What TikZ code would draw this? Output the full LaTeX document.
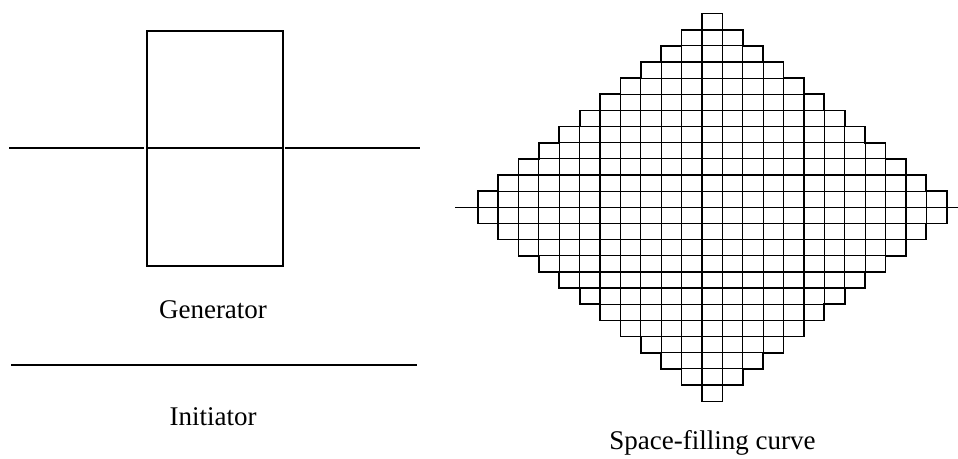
\documentclass[tikz,border=0pt]{standalone}
\usepackage{fontspec}
\setmainfont{Liberation Serif}
\begin{document}
\begin{tikzpicture}[x=1pt,y=-1pt,
  ln/.style={line width=1.4pt,black},
  cell/.style={line width=1.2pt,black},
  outl/.style={line width=1.7pt,black,line join=miter},
  tip/.style={line width=0.8pt,black},
  lbl/.style={font=\fontsize{27}{30}\selectfont,anchor=base,inner sep=0pt}]
\useasboundingbox (0,0) rectangle (958,458);
% ---------- Generator ----------
\coordinate (gl0) at (9,148);
\coordinate (gl1) at (144,148);
\coordinate (gr0) at (285,148);
\coordinate (gr1) at (420,148);
\draw[ln] (gl0) -- (gl1);
\draw[ln] (gr0) -- (gr1);
\draw[ln] (147,31) rectangle (283,266);
\draw[ln] (147,148) -- (283,148);
\node[lbl] (gen) at (213,318) {Generator};
% ---------- Initiator ----------
\coordinate (i0) at (11,365);
\coordinate (i1) at (417,365);
\draw[ln] (i0) -- (i1);
\node[lbl] (ini) at (213,425) {Initiator};
% ---------- Space-filling curve ----------
\def\xo{477.7}\def\dx{20.39}\def\ax{207.3}\def\dy{16.15}
\coordinate (a0) at (455,\ax);
\coordinate (a1) at (958,\ax);
\foreach \i in {0,...,22}{
  \pgfmathtruncatemacro{\n}{12-abs(\i-11)}
  \pgfmathsetmacro{\xa}{\xo+\i*\dx}
  \pgfmathsetmacro{\xb}{\xo+(\i+1)*\dx}
  \foreach \j in {1,...,\n}{
    \draw[cell] (\xa,{\ax-\j*\dy}) rectangle (\xb,{\ax-(\j-1)*\dy});
    \draw[cell] (\xa,{\ax+\j*\dy}) rectangle (\xb,{\ax+(\j-1)*\dy});
  }
}
% outline (staircase) top and bottom
\draw[outl] (\xo,\ax)
  \foreach \i in {0,...,22}{
    -- ({\xo+\i*\dx},{\ax-min(12-abs(\i-11),11)*\dy})
    -- ({\xo+(\i+1)*\dx},{\ax-min(12-abs(\i-11),11)*\dy})
  } -- ({\xo+23*\dx},\ax);
\draw[outl] (\xo,\ax)
  \foreach \i in {0,...,22}{
    -- ({\xo+\i*\dx},{\ax+min(12-abs(\i-11),11)*\dy})
    -- ({\xo+(\i+1)*\dx},{\ax+min(12-abs(\i-11),11)*\dy})
  } -- ({\xo+23*\dx},\ax);
% tip cells
\draw[tip] ({\xo+11*\dx},{\ax-11*\dy}) rectangle ({\xo+12*\dx},{\ax-12*\dy});
\draw[tip] ({\xo+11*\dx},{\ax+11*\dy}) rectangle ({\xo+12*\dx},{\ax+12*\dy});
\draw[ln] (a0) -- (a1);
\node[lbl] (sfc) at (712.5,449) {Space-filling curve};
\end{tikzpicture}
\end{document}
